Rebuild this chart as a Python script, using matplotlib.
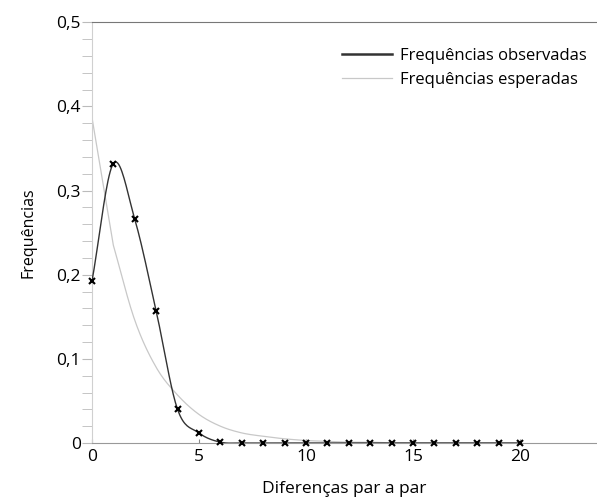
import numpy as np
import matplotlib.pyplot as plt
from matplotlib.ticker import MultipleLocator, FuncFormatter

plt.rcParams['font.family'] = ['Open Sans', 'DejaVu Sans']

# diferenças par a par
x = np.arange(0, 21)
observadas = [0.192, 0.332, 0.266, 0.157, 0.040, 0.012, 0.001, 0, 0, 0,
              0, 0, 0, 0, 0, 0, 0, 0, 0, 0, 0]
esperadas = [0.387, 0.235, 0.146, 0.090, 0.057, 0.034, 0.020, 0.012, 0.008,
             0.005, 0.003, 0.002, 0.001, 0.001, 0.0, 0.0, 0.0, 0.0, 0.0,
             0.0, 0.0]


def catmull_rom(xs, ys, n=20):
    xs = np.asarray(xs, float)
    ys = np.asarray(ys, float)
    px = np.concatenate([[2 * xs[0] - xs[1]], xs, [2 * xs[-1] - xs[-2]]])
    py = np.concatenate([[2 * ys[0] - ys[1]], ys, [2 * ys[-1] - ys[-2]]])
    ox, oy = [], []
    t = np.linspace(0, 1, n, endpoint=False)
    for i in range(1, len(px) - 2):
        for p, o in ((px, ox), (py, oy)):
            p0, p1, p2, p3 = p[i - 1], p[i], p[i + 1], p[i + 2]
            o.extend(0.5 * (2 * p1 + (-p0 + p2) * t
                            + (2 * p0 - 5 * p1 + 4 * p2 - p3) * t ** 2
                            + (-p0 + 3 * p1 - 3 * p2 + p3) * t ** 3))
    ox.append(xs[-1])
    oy.append(ys[-1])
    return np.array(ox), np.array(oy)


fig = plt.figure(figsize=(5.97, 5.04), dpi=100)
ax = fig.add_axes([0.154, 0.121, 0.846, 0.835])

sx, sy = catmull_rom(x, observadas)
# curva esperada: primeiro trecho reto, depois suavizada
ex, ey = catmull_rom(x[1:], esperadas[1:])
ex = np.concatenate([[x[0]], ex])
ey = np.concatenate([[esperadas[0]], ey])
ax.plot(ex, ey, color='#c8c8c8', lw=0.9, zorder=2)
ax.plot(sx, sy, color='#333333', lw=1.0, zorder=3)
ax.plot(x, observadas, ls='none', marker='x', ms=4, mew=1.5, color='black',
        zorder=4, clip_on=False)

# legenda
h1, = ax.plot([], [], color='#333333', lw=1.8)
h2, = ax.plot([], [], color='#c8c8c8', lw=0.9)
ax.legend([h1, h2], ['Frequências observadas', 'Frequências esperadas'],
          loc='upper right', bbox_to_anchor=(1.01, 0.975), frameon=False,
          fontsize=12, handlelength=3.0, handletextpad=0.5, labelspacing=0.5)

ax.set_xlim(0, 23.6)
ax.set_ylim(0, 0.5)
ax.xaxis.set_major_locator(MultipleLocator(5))
ax.yaxis.set_major_locator(MultipleLocator(0.1))
ax.yaxis.set_minor_locator(MultipleLocator(0.02))
ax.yaxis.set_major_formatter(FuncFormatter(
    lambda v, p: '0' if abs(v) < 1e-9 else f'{v:.1f}'.replace('.', ',')))

ax.spines['right'].set_visible(False)
ax.spines['left'].set_color('#d0d0d0')
ax.spines['top'].set_color('#777777')
ax.spines['bottom'].set_color('#999999')
ax.tick_params(axis='y', which='both', direction='out', length=7,
               color='#bbbbbb', labelsize=12.5, pad=1)
ax.tick_params(axis='x', which='major', direction='in', length=3,
               color='#888888', labelsize=12.5, pad=4)

ax.set_xlabel('Diferenças par a par', fontsize=12.5, labelpad=12)
ax.set_ylabel('Frequências', fontsize=11.5, labelpad=14)

fig.savefig('out.png', dpi=100)
